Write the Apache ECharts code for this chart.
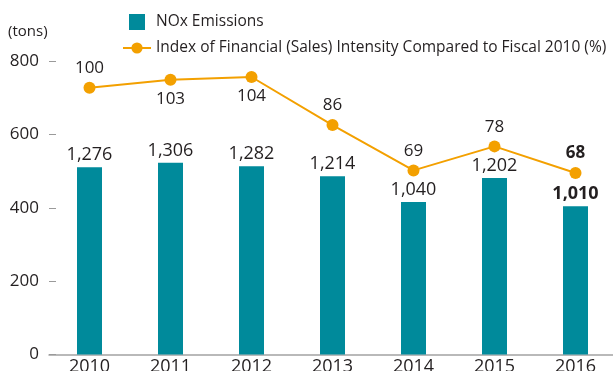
<!DOCTYPE html>
<html>
<head>
<meta charset="utf-8">
<script src="https://cdn.jsdelivr.net/npm/echarts@6/dist/echarts.min.js"></script>
<style>
  html, body { margin: 0; padding: 0; background: #fff; }
  #chart { width: 613px; height: 371px; }
</style>
</head>
<body>
<div id="chart"></div>
<script>
// Fiscal years on the horizontal axis
const years = ['2010', '2011', '2012', '2013', '2014', '2015', '2016'];
// NOx emissions (tons)
const noxTons = [1276, 1306, 1282, 1214, 1040, 1202, 1010];
// Index of financial (sales) intensity, fiscal 2010 = 100
const intensityIndex = [100, 103, 104, 86, 69, 78, 68];
// Left axis tick range
const tonAxisMin = 0;
const tonAxisMax = 800;
const tonAxisStep = 200;

const FONT = 'Open Sans';
const TEXT = '#231f20';
const TEAL = '#008a9b';
const ORANGE = '#f3a000';
const last = years.length - 1;

const chart = echarts.init(document.getElementById('chart'), null, { renderer: 'canvas' });

chart.setOption({
  animation: false,
  title: {
    text: '(tons)',
    left: 8, top: 24, padding: 0,
    textStyle: { fontFamily: FONT, fontSize: 15, fontWeight: 'normal', color: TEXT }
  },
  legend: [
    {
      data: [{ name: 'NOx Emissions', icon: 'rect' }],
      left: 129, top: 14, padding: 0,
      itemWidth: 16, itemHeight: 16,
      textStyle: { fontFamily: FONT, fontSize: 15.5, color: TEXT, padding: [0, 0, 0, 6] }
    },
    {
      data: ['Index of Financial (Sales) Intensity Compared to Fiscal 2010 (%)'],
      left: 122, top: 40, padding: 0,
      itemWidth: 28, itemHeight: 14,
      textStyle: { fontFamily: FONT, fontSize: 15.5, color: TEXT }
    }
  ],
  grid: {
    left: 49, top: 61, width: 567, height: 293.5,
    containLabel: false,
    outerBoundsMode: 'none'
  },
  xAxis: {
    type: 'category',
    data: years,
    boundaryGap: true,
    axisLine: { lineStyle: { color: '#a3a3a3', width: 1.5 } },
    axisTick: { show: false },
    axisLabel: { fontFamily: FONT, fontSize: 18, color: TEXT, margin: 3 }
  },
  yAxis: [
    {
      type: 'value',
      min: tonAxisMin, max: tonAxisMax, interval: tonAxisStep,
      axisLine: { show: false },
      axisTick: { show: true, inside: true, length: 7, lineStyle: { color: '#9a9a9a', width: 1 } },
      axisLabel: { fontFamily: FONT, fontSize: 17, color: TEXT, margin: 10 },
      splitLine: { show: false }
    },
    { type: 'value', min: 0, max: 2000, show: false, splitLine: { show: false } },
    { type: 'value', min: 0, max: 110, show: false, splitLine: { show: false } }
  ],
  series: [
    {
      name: 'NOx Emissions',
      type: 'bar',
      yAxisIndex: 1,
      barWidth: 25,
      itemStyle: { color: TEAL },
      data: noxTons.map((v, i) => ({
        value: v,
        label: i === last ? { fontWeight: 'bold' } : undefined
      })),
      label: {
        show: true,
        position: 'top',
        distance: 3,
        fontFamily: FONT,
        fontSize: 18,
        color: TEXT,
        formatter: p => p.value.toLocaleString('en-US')
      }
    },
    {
      name: 'Index of Financial (Sales) Intensity Compared to Fiscal 2010 (%)',
      type: 'line',
      yAxisIndex: 2,
      symbol: 'circle',
      symbolSize: 12,
      lineStyle: { color: ORANGE, width: 2 },
      itemStyle: { color: ORANGE },
      data: intensityIndex.map((v, i) => ({
        value: v,
        label: {
          position: (i === 1 || i === 2) ? 'bottom' : 'top',
          fontWeight: i === last ? 'bold' : 'normal'
        }
      })),
      label: {
        show: true,
        distance: 5,
        fontFamily: FONT,
        fontSize: 17,
        color: TEXT
      },
      z: 3
    }
  ]
});
</script>
</body>
</html>
